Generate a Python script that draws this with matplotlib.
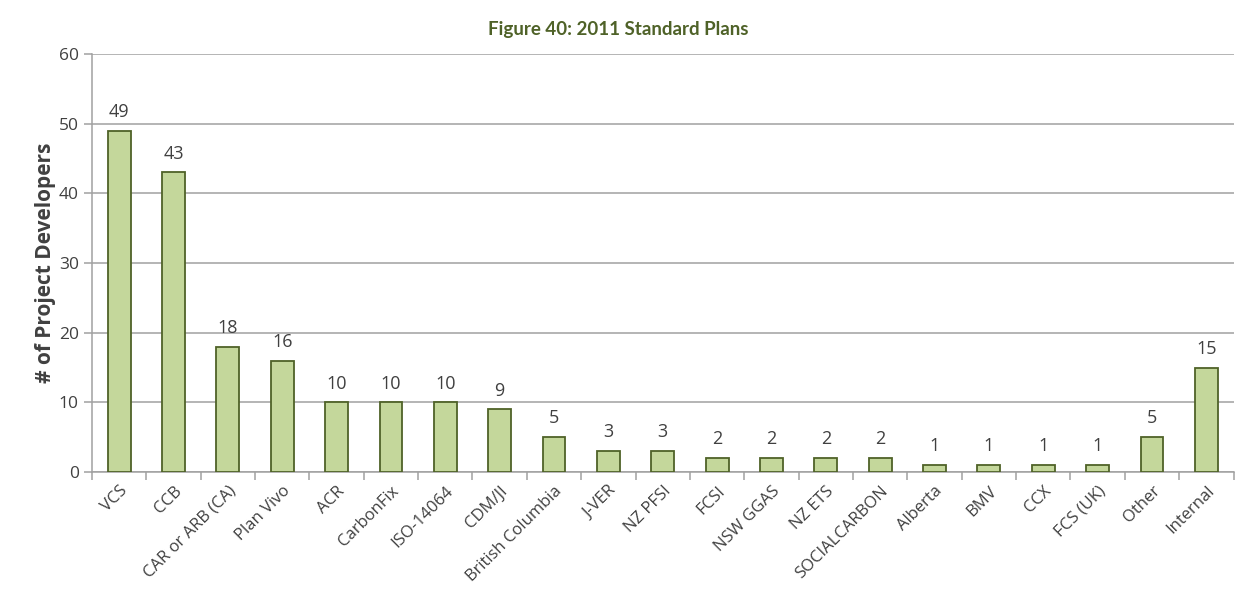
import matplotlib
matplotlib.use('Agg')
from matplotlib import pyplot as plt
import numpy as np

categories = ['VCS', 'CCB', 'CAR or ARB (CA)', 'Plan Vivo', 'ACR', 'CarbonFix', 'ISO-14064',
              'CDM/JI', 'British Columbia', 'J-VER', 'NZ PFSI', 'FCSI', 'NSW GGAS', 'NZ ETS',
              'SOCIALCARBON', 'Alberta', 'BMV', 'CCX', 'FCS (UK)', 'Other', 'Internal']
developers = [49, 43, 18, 16, 10, 10, 10, 9, 5, 3, 3, 2, 2, 2, 2, 1, 1, 1, 1, 5, 15]
y_ticks = [0, 10, 20, 30, 40, 50, 60]

text_color = '#404040'
dark_green = '#4F6228'

plt.rcParams['font.family'] = ['Open Sans', 'DejaVu Sans']

fig = plt.figure(figsize=(12.36, 6.0), dpi=100)
ax = fig.add_axes([0.0744, 0.2133, 0.9236, 0.6967])

x = np.arange(len(categories))
bars = ax.bar(x, developers, width=0.42, color='#C4D79B', edgecolor=dark_green, linewidth=1.3, zorder=3)

#value labels above bars
for xi, val in zip(x, developers):
    ax.annotate(str(val), (xi, val), xytext=(0, 7), textcoords='offset points',
                ha='center', va='bottom', fontsize=13, color=text_color)

ax.set_xlim(-0.5, len(categories) - 0.5)
ax.set_ylim(0, 60)
ax.set_yticks(y_ticks)
ax.yaxis.grid(True, color='#A0A0A0', linewidth=1.1, zorder=0)
ax.set_axisbelow(True)

#category labels, ticks between categories
ax.set_xticks(x)
ax.set_xticklabels(categories, rotation=45, ha='right', rotation_mode='anchor',
                   fontsize=12, color=text_color)
ax.tick_params(axis='x', which='major', length=0, pad=8)
ax.set_xticks(np.arange(-0.5, len(categories)), minor=True)
ax.tick_params(axis='x', which='minor', length=6, color='#A0A0A0', width=1.1)
ax.tick_params(axis='y', length=6, color='#A0A0A0', width=1.1, labelsize=12.5, labelcolor=text_color)

for side in ['top', 'right']:
    ax.spines[side].set_visible(False)
for side in ['left', 'bottom']:
    ax.spines[side].set_color('#A0A0A0')
    ax.spines[side].set_linewidth(1.1)

ax.set_ylabel('# of Project Developers', fontsize=15, fontweight='bold', color=text_color, labelpad=2)
fig.suptitle('Figure 40: 2011 Standard Plans', x=0.5, y=0.965, fontsize=13.5,
             fontweight='bold', color=dark_green, family=['Lato', 'DejaVu Sans'])

plt.savefig('out.png', dpi=100)
plt.close()
